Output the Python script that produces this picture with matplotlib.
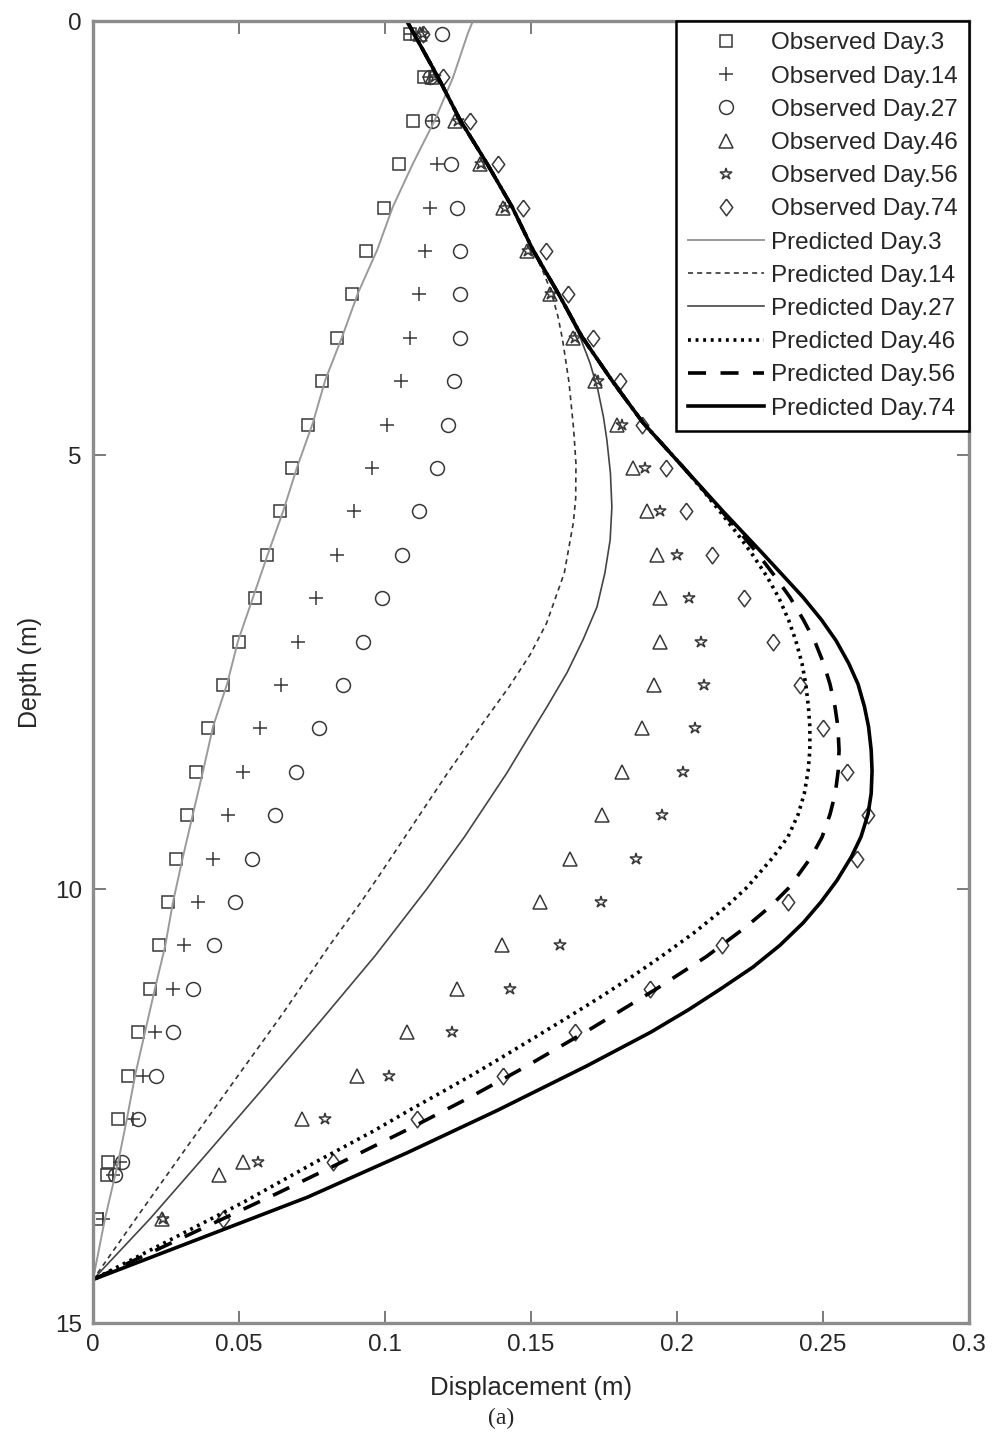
import matplotlib
matplotlib.use("Agg")
import matplotlib.pyplot as plt

plt.rcParams['font.family'] = ['Liberation Sans', 'DejaVu Sans']

# ---------------- observed data ----------------
obs_depth = [0.15, 0.65, 1.15, 1.65, 2.15, 2.65, 3.15, 3.65, 4.15, 4.65,
             5.15, 5.65, 6.15, 6.65, 7.15, 7.65, 8.15, 8.65, 9.15, 9.65,
             10.15, 10.65, 11.15, 11.65, 12.15, 12.65, 13.15]

day3_depth = obs_depth + [13.3, 13.8]
day3_obs = [0.1086, 0.1135, 0.1096, 0.1048, 0.0997, 0.0935, 0.0887, 0.0836, 0.0784, 0.0736,
            0.0682, 0.0640, 0.0596, 0.0555, 0.0500, 0.0445, 0.0394, 0.0353, 0.0322, 0.0284,
            0.0257, 0.0226, 0.0195, 0.0155, 0.0120, 0.0086, 0.0051, 0.0048, 0.0015]

day14_depth = obs_depth + [13.3, 13.8]
day14_obs = [0.1090, 0.1150, 0.1161, 0.1178, 0.1154, 0.1137, 0.1116, 0.1086, 0.1055, 0.1007,
             0.0955, 0.0894, 0.0836, 0.0764, 0.0702, 0.0644, 0.0572, 0.0514, 0.0462, 0.0411,
             0.0360, 0.0312, 0.0274, 0.0212, 0.0171, 0.0137, 0.0092, 0.0068, 0.0034]

day27_depth = obs_depth + [13.3]
day27_obs = [0.1195, 0.1154, 0.1161, 0.1226, 0.1247, 0.1257, 0.1257, 0.1257, 0.1236, 0.1216,
             0.1178, 0.1116, 0.1058, 0.0990, 0.0925, 0.0856, 0.0774, 0.0695, 0.0623, 0.0545,
             0.0486, 0.0414, 0.0342, 0.0274, 0.0216, 0.0154, 0.0099, 0.0075]

day46_depth = obs_depth + [13.3, 13.8]
day46_obs = [0.1120, 0.1160, 0.1240, 0.1325, 0.1404, 0.1486, 0.1565, 0.1644, 0.1719, 0.1795,
             0.1849, 0.1897, 0.1932, 0.1942, 0.1942, 0.1921, 0.1880, 0.1812, 0.1743, 0.1634,
             0.1531, 0.1401, 0.1247, 0.1075, 0.0904, 0.0716, 0.0514, 0.0432, 0.0236]

day56_depth = obs_depth + [13.8]
day56_obs = [0.1130, 0.1170, 0.1250, 0.1330, 0.1410, 0.1490, 0.1570, 0.1650, 0.1730, 0.1812,
             0.1890, 0.1942, 0.2000, 0.2041, 0.2082, 0.2092, 0.2062, 0.2020, 0.1949, 0.1860,
             0.1740, 0.1599, 0.1428, 0.1229, 0.1014, 0.0795, 0.0565, 0.0240]

day74_depth = obs_depth + [13.8]
day74_obs = [0.1130, 0.1199, 0.1291, 0.1387, 0.1473, 0.1551, 0.1627, 0.1712, 0.1805, 0.1880,
             0.1962, 0.2031, 0.2120, 0.2229, 0.2329, 0.2421, 0.2500, 0.2582, 0.2654, 0.2616,
             0.2380, 0.2154, 0.1908, 0.1650, 0.1404, 0.1110, 0.0822, 0.0445]

# ---------------- predicted curves ----------------
pred3_depth = [0.0, 0.14, 0.65, 1.14, 1.64, 2.14, 2.64, 3.13, 3.64, 4.14, 4.63, 5.14, 5.65, 6.14,
               6.64, 7.14, 7.64, 8.13, 8.64, 9.14, 9.63, 10.15, 10.66, 11.15, 11.65, 12.15,
               12.65, 13.15, 13.8, 14.5]
pred3 = [0.1301, 0.1284, 0.1233, 0.1171, 0.1096, 0.1027, 0.0973, 0.0908, 0.0853, 0.0795, 0.0753,
         0.0699, 0.0651, 0.0599, 0.0548, 0.0497, 0.0459, 0.0411, 0.0377, 0.0342, 0.0308, 0.0274,
         0.0247, 0.0212, 0.0178, 0.0144, 0.0116, 0.0086, 0.0041, 0.0]

pred14_depth = [0.0, 0.65, 1.14, 1.64, 2.14, 2.64, 2.9, 3.13, 3.4, 3.67, 4.16, 4.7, 5.1, 5.5,
                5.78, 6.36, 6.94, 7.3, 7.67, 8.09, 8.66, 9.24, 9.82, 10.15, 10.66, 11.43,
                12.2, 12.97, 13.73, 14.5]
pred14 = [0.1075, 0.1182, 0.1257, 0.1349, 0.1435, 0.1507, 0.1543, 0.1570, 0.1592, 0.1608,
          0.1630, 0.1646, 0.1654, 0.1653, 0.1645, 0.1614, 0.1553, 0.1497, 0.1425, 0.1335,
          0.1215, 0.1100, 0.0985, 0.0918, 0.0808, 0.0651, 0.0486, 0.0322, 0.0161, 0.0]

pred27_depth = [0.0, 0.65, 1.14, 1.64, 2.14, 2.64, 3.13, 3.64, 3.94, 4.25, 4.56, 4.83, 5.21,
                5.6, 5.98, 6.36, 6.75, 7.13, 7.51, 7.9, 8.28, 8.66, 9.4, 10.0, 10.77, 11.53,
                12.3, 13.06, 13.8, 14.5]
pred27 = [0.1075, 0.1182, 0.1257, 0.1349, 0.1435, 0.1507, 0.1592, 0.1668, 0.1702, 0.1729,
          0.1748, 0.1760, 0.1772, 0.1777, 0.1771, 0.1753, 0.1726, 0.1678, 0.1623, 0.1555,
          0.1486, 0.1418, 0.1272, 0.1143, 0.0966, 0.0777, 0.0582, 0.0387, 0.0195, 0.0]

pred46_depth = [0.0, 0.65, 1.14, 1.64, 2.14, 2.64, 3.13, 3.64, 4.16, 4.63, 5.14, 5.4, 5.65,
                5.9, 6.14, 6.4, 6.64, 6.9, 7.14, 7.4, 7.64, 7.9, 8.13, 8.4, 8.64, 8.9, 9.14,
                9.4, 9.63, 9.98, 10.2, 10.5, 10.78, 11.0, 11.24, 11.47, 11.7, 11.97, 12.12,
                12.32, 12.54, 12.78, 12.97, 13.15, 13.6, 14.5]
pred46 = [0.1075, 0.1182, 0.1257, 0.1349, 0.1435, 0.1507, 0.1592, 0.1675, 0.1781, 0.1884,
          0.2021, 0.2087, 0.2147, 0.2205, 0.2257, 0.2308, 0.2348, 0.2382, 0.2407, 0.2428,
          0.2441, 0.2450, 0.2455, 0.2455, 0.2449, 0.2436, 0.2415, 0.2380, 0.2330, 0.2240,
          0.2170, 0.2060, 0.1945, 0.1850, 0.1740, 0.1630, 0.1518, 0.1385, 0.1310, 0.1205,
          0.1088, 0.0965, 0.0860, 0.0760, 0.0520, 0.0]

pred56_depth = [0.0, 0.65, 1.14, 1.64, 2.14, 2.64, 3.13, 3.64, 4.16, 4.63, 5.14, 5.65, 5.9,
                6.14, 6.4, 6.64, 6.9, 7.14, 7.4, 7.64, 7.9, 8.13, 8.4, 8.64, 8.9, 9.14, 9.4,
                9.63, 9.98, 10.2, 10.44, 10.78, 11.16, 11.6, 12.05, 12.41, 12.75, 13.12, 13.5,
                14.5]
pred56 = [0.1075, 0.1182, 0.1257, 0.1349, 0.1435, 0.1507, 0.1592, 0.1675, 0.1781, 0.1884,
          0.2021, 0.2154, 0.2218, 0.2277, 0.2336, 0.2387, 0.2433, 0.2471, 0.2502, 0.2524,
          0.2541, 0.2551, 0.2555, 0.2552, 0.2542, 0.2524, 0.2497, 0.2460, 0.2385, 0.2320,
          0.2235, 0.2100, 0.1925, 0.1710, 0.1480, 0.1285, 0.1090, 0.0868, 0.0635, 0.0]

pred74_depth = [0.0, 0.65, 1.14, 1.64, 2.14, 2.64, 3.13, 3.64, 4.16, 4.63, 5.14, 5.65, 6.14,
                6.64, 6.9, 7.14, 7.4, 7.64, 7.9, 8.13, 8.4, 8.64, 8.9, 9.14, 9.4, 9.63, 9.9,
                10.15, 10.39, 10.65, 10.9, 11.15, 11.39, 11.65, 12.04, 12.55, 13.04, 13.55,
                14.5]
pred74 = [0.1075, 0.1182, 0.1257, 0.1349, 0.1435, 0.1507, 0.1592, 0.1675, 0.1781, 0.1884,
          0.2021, 0.2158, 0.2295, 0.2432, 0.2495, 0.2545, 0.2588, 0.2620, 0.2642, 0.2656,
          0.2665, 0.2668, 0.2665, 0.2654, 0.2630, 0.2597, 0.2548, 0.2493, 0.2432, 0.2352,
          0.2260, 0.2150, 0.2040, 0.1910, 0.1690, 0.1385, 0.1075, 0.0735, 0.0]

obs_labels = ['Observed Day.3', 'Observed Day.14', 'Observed Day.27',
              'Observed Day.46', 'Observed Day.56', 'Observed Day.74']
pred_labels = ['Predicted Day.3', 'Predicted Day.14', 'Predicted Day.27',
               'Predicted Day.46', 'Predicted Day.56', 'Predicted Day.74']

x_ticks = [0, 0.05, 0.1, 0.15, 0.2, 0.25, 0.3]
x_ticklabels = ['0', '0.05', '0.1', '0.15', '0.2', '0.25', '0.3']
y_ticks = [0, 5, 10, 15]
y_ticklabels = ['0', '5', '10', '15']

# ---------------- figure ----------------
W, H = 994, 1439
fig = plt.figure(figsize=(W / 100, H / 100), dpi=100)
ax = fig.add_axes([93 / W, 1 - 1323 / H, (969 - 93) / W, (1323 - 21) / H])

diamond = [(0, 1), (0.75, 0), (0, -1), (-0.75, 0), (0, 1)]
mk = dict(linestyle='none', markerfacecolor='none', markeredgecolor='#383838',
          markeredgewidth=1.1)
h_obs = []
h_obs += ax.plot(day3_obs, day3_depth, marker='s', markersize=8, **mk)
h_obs += ax.plot(day14_obs, day14_depth, marker='+', markersize=10, **mk)
h_obs += ax.plot(day27_obs, day27_depth, marker='o', markersize=10, **mk)
h_obs += ax.plot(day46_obs, day46_depth, marker='^', markersize=10, **mk)
h_obs += ax.plot(day56_obs, day56_depth, marker='*', markersize=9, **mk)
h_obs += ax.plot(day74_obs, day74_depth, marker=diamond, markersize=12, **mk)

h_pred = []
h_pred += ax.plot(pred3, pred3_depth, color='#9a9a9a', lw=1.4, ls='-')
h_pred += ax.plot(pred14, pred14_depth, color='#333333', lw=1.2, ls=(0, (3, 2.5)))
h_pred += ax.plot(pred27, pred27_depth, color='#444444', lw=1.2, ls='-')
h_pred += ax.plot(pred46, pred46_depth, color='black', lw=2.6, ls=(0, (0.8, 1.3)))
h_pred += ax.plot(pred56, pred56_depth, color='black', lw=2.6, ls=(0, (5, 4)))
h_pred += ax.plot(pred74, pred74_depth, color='black', lw=2.6, ls='-')

ax.set_xlim(0, 0.3)
ax.set_ylim(15, 0)
ax.set_xticks(x_ticks)
ax.set_xticklabels(x_ticklabels)
ax.set_yticks(y_ticks)
ax.set_yticklabels(y_ticklabels)

spine_c = '#8c8c8c'
for s in ax.spines.values():
    s.set_color(spine_c)
    s.set_linewidth(2.4)
ax.tick_params(direction='in', length=9, width=1.3, color='#707070',
               top=True, right=True, labelsize=17.5, labelcolor='#262626', pad=8)

ax.set_xlabel('Displacement (m)', fontsize=18.5, color='#262626')
ax.xaxis.set_label_coords(0.5, -0.0405)
ax.set_ylabel('Depth (m)', fontsize=18, color='#262626')
ax.yaxis.set_label_coords(-0.058, 0.5)

fig.text(501 / W, 1 - 1418 / H, '(a)', fontsize=17, family='Liberation Serif',
         ha='center', va='center', color='#262626')

leg = ax.legend(h_obs + h_pred, obs_labels + pred_labels, loc='upper right',
                bbox_to_anchor=(1.0, 1.0), borderaxespad=0.0, fontsize=17.5,
                frameon=True, fancybox=False, framealpha=1, edgecolor='black',
                handlelength=3.12, handletextpad=0.3, labelspacing=0.46,
                borderpad=0.47, labelcolor='#262626')
leg.get_frame().set_linewidth(1.8)

fig.savefig('out.png', dpi=100)
